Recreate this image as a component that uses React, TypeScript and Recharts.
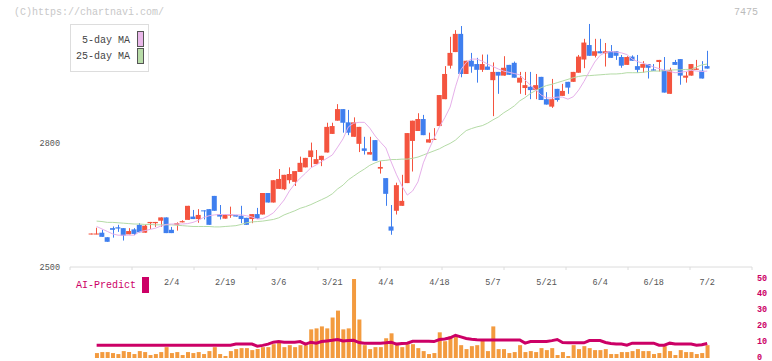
import React from 'react';
import { ComposedChart, Bar, Line, XAxis, YAxis } from 'recharts';

const MONO = '"Liberation Mono", "DejaVu Sans Mono", monospace';
const RED = '#F4543F';
const BLUE = '#3F7FEF';
const PINK = '#E6B0EA';
const GREEN = '#B4DBA6';
const ORANGE = '#F39B3F';
const MAGENTA = '#CC0066';
const AXIS = '#DCDCDC';

// candle OHLC (index = trading day)
const opens = [
  2579, 2579, 2583, 2572, 2594, 2596, 2594, 2579, 2591, 2602,
  2583, 2606, 2606, 2612, 2620, 2590, 2602, 2608, 2614, 2622,
  2616, 2637, 2640, 2672, 2628, 2617, 2625, 2626, 2624, 2619,
  2616, 2628, 2627, 2679, 2656, 2689, 2688, 2710, 2706, 2730,
  2741, 2766, 2749, 2759, 2777, 2822, 2854, 2882, 2850, 2815,
  2798, 2787, 2772, 2807, 2738, 2715, 2598, 2636, 2648, 2703,
  2805, 2829, 2858, 2801, 2808, 2841, 2906, 2987, 3020, 3064,
  2967, 2999, 2991, 2977, 2985, 2952, 2972, 2963, 2989, 2994,
  2946, 2933, 2936, 2928, 2960, 2906, 2888, 2931, 2914, 2948,
  2948, 2970, 3002, 3037, 3011, 3022, 3017, 3022, 3022, 3008,
  2989, 3009, 2986, 2982, 2991, 2978, 2996, 2977, 2919, 2996,
  3003, 2958, 2963, 2977, 2975, 2986,
];
const highs = [
  2581, 2595, 2590, 2572, 2598, 2602, 2594, 2594, 2594, 2606,
  2602, 2609, 2609, 2620, 2620, 2597, 2608, 2613, 2648, 2638,
  2640, 2637, 2640, 2672, 2650, 2627, 2646, 2626, 2648, 2619,
  2628, 2643, 2679, 2679, 2710, 2737, 2723, 2741, 2732, 2767,
  2764, 2801, 2783, 2769, 2849, 2849, 2894, 2882, 2880, 2862,
  2839, 2815, 2815, 2807, 2756, 2715, 2650, 2704, 2723, 2824,
  2854, 2872, 2868, 2825, 2836, 2916, 2986, 3057, 3073, 3083,
  2999, 3018, 3006, 3014, 3014, 2995, 2972, 3010, 2989, 2997,
  2972, 2972, 2972, 2967, 2960, 2923, 2955, 2931, 2943, 2948,
  2972, 3013, 3052, 3088, 3052, 3052, 3042, 3037, 3022, 3013,
  3010, 3012, 3013, 2998, 2991, 2991, 3001, 3008, 2982, 3001,
  3003, 2972, 2991, 3001, 2998, 3023,
];
const lows = [
  2579, 2579, 2573, 2561, 2571, 2585, 2564, 2579, 2577, 2584,
  2583, 2592, 2597, 2597, 2582, 2582, 2588, 2608, 2614, 2616,
  2607, 2615, 2602, 2636, 2615, 2617, 2619, 2622, 2606, 2602,
  2606, 2617, 2627, 2656, 2656, 2689, 2686, 2702, 2696, 2730,
  2741, 2741, 2749, 2744, 2777, 2822, 2854, 2825, 2819, 2815,
  2778, 2772, 2772, 2757, 2726, 2648, 2578, 2627, 2648, 2703,
  2731, 2829, 2819, 2801, 2808, 2841, 2906, 2980, 3020, 2959,
  2967, 2970, 2946, 2972, 2977, 2865, 2919, 2963, 2965, 2958,
  2919, 2916, 2906, 2906, 2904, 2893, 2885, 2900, 2914, 2919,
  2948, 2970, 2981, 3011, 3007, 3017, 2985, 3006, 3001, 2982,
  2989, 2999, 2970, 2970, 2956, 2975, 2973, 2922, 2919, 2989,
  2941, 2946, 2963, 2977, 2956, 2980,
];
const closes = [
  2581, 2581, 2573, 2561, 2590, 2593, 2576, 2587, 2580, 2584,
  2600, 2609, 2609, 2620, 2582, 2582, 2606, 2611, 2648, 2616,
  2626, 2635, 2602, 2636, 2622, 2627, 2627, 2622, 2616, 2602,
  2628, 2617, 2679, 2656, 2710, 2713, 2723, 2725, 2732, 2752,
  2764, 2782, 2761, 2769, 2839, 2841, 2882, 2849, 2825, 2850,
  2839, 2781, 2778, 2757, 2742, 2677, 2588, 2698, 2660, 2824,
  2854, 2858, 2819, 2809, 2810, 2916, 2967, 3018, 3064, 2967,
  2999, 2985, 2977, 2991, 2977, 2972, 2963, 2982, 2965, 2958,
  2958, 2940, 2928, 2940, 2904, 2893, 2906, 2904, 2926, 2934,
  2972, 3009, 3043, 3011, 3022, 3017, 3022, 3006, 3011, 2987,
  3008, 2999, 2977, 2991, 2982, 2975, 3001, 2922, 2977, 2989,
  2963, 2963, 2991, 2980, 2956, 2980,
];
// moving averages as drawn
const ma5 = [
  null, 2598, 2592, 2586, 2580, 2577, 2577, 2577, 2577, 2585,
  2588, 2591, 2594, 2599, 2603, 2604, 2604, 2604, 2605, 2608,
  2613, 2620, 2624, 2626, 2627, 2627, 2627, 2626, 2626, 2624,
  2621, 2616, 2617, 2623, 2631, 2646, 2662, 2684, 2701, 2715,
  2727, 2740, 2747, 2755, 2763, 2771, 2790, 2810, 2839, 2848,
  2850, 2850, 2836, 2817, 2802, 2788, 2754, 2723, 2696, 2674,
  2684, 2706, 2752, 2783, 2812, 2839, 2861, 2887, 2936, 2977,
  2995, 3003, 3003, 2998, 2991, 2985, 2979, 2974, 2971, 2968,
  2965, 2952, 2940, 2928, 2916, 2909, 2909, 2911, 2911, 2906,
  2912, 2928, 2949, 2973, 2996, 3012, 3019, 3021, 3020, 3018,
  3014, 3003, 2997, 2993, 2989, 2984, 2980, 2976, 2973, 2970,
  2971, 2973, 2976, 2974, 2973, 2974,
];
const ma25 = [
  null, 2611, 2610, 2608, 2608, 2607, 2606, 2605, 2604, 2604,
  2603, 2603, 2602, 2602, 2602, 2602, 2601, 2600, 2599, 2598,
  2598, 2598, 2598, 2597, 2597, 2598, 2599, 2600, 2603, 2607,
  2609, 2610, 2611, 2613, 2615, 2619, 2626, 2631, 2636, 2642,
  2646, 2651, 2657, 2663, 2669, 2677, 2689, 2698, 2711, 2720,
  2729, 2737, 2746, 2752, 2757, 2758, 2760, 2760, 2761, 2761,
  2763, 2766, 2771, 2776, 2781, 2786, 2793, 2799, 2807, 2819,
  2830, 2835, 2839, 2842, 2848, 2856, 2863, 2873, 2881, 2890,
  2902, 2910, 2920, 2927, 2934, 2939, 2942, 2946, 2950, 2954,
  2958, 2961, 2963, 2963, 2964, 2965, 2966, 2967, 2967, 2968,
  2970, 2970, 2970, 2971, 2973, 2974, 2974, 2975, 2976, 2977,
  2977, 2978, 2978, 2984, 2989, 2991,
];
// volume (relative units) and AI-Predict
const volume = [
  null, 5, 6, 6, 5, 4, 7, 6, 4, 7,
  6, 3, 4, 6, 11, 5, 6, 3, 6, 5,
  6, 4, 7, 11, 4, 2, 7, 9, 10, 10,
  8, 9, 11, 11, 14, 16, 11, 13, 11, 13,
  13, 29, 30, 32, 30, 41, 48, 29, 30, 80,
  39, 13, 9, 11, 11, 20, 25, 13, 11, 14,
  14, 10, 7, 4, 5, 26, 17, 22, 22, 13,
  9, 12, 13, 19, 7, 32, 9, 9, 5, 6,
  13, 6, 7, 6, 10, 8, 10, 3, 6, 2,
  13, 9, 12, 10, 8, 8, 9, 4, 4, 6,
  6, 7, 9, 7, 7, 4, 5, 12, 7, 3,
  8, 6, 6, 4, 5, 13,
];
const aiPredict = [
  null, 8.1, 8.1, 8.1, 8.1, 8.1, 8.1, 8.1, 8.1, 8.1,
  8.1, 8.1, 8.1, 8.1, 8.1, 8.1, 8.1, 8.1, 8.1, 8.1,
  8.1, 8.1, 8.1, 8.1, 8.1, 8.1, 8.1, 8.8, 8.8, 8.8,
  8.8, 7.5, 8, 8.8, 10, 10.4, 10, 10, 10, 10.4,
  8.8, 10, 9.4, 10.4, 10.8, 11.2, 11.7, 10.8, 11, 11.2,
  9.8, 9.4, 9.4, 9.4, 9.4, 9.6, 10, 8.8, 9.2, 9.4,
  10.6, 10.6, 10.6, 10.6, 10.4, 11.7, 12, 12.8, 14.4, 13.4,
  12.4, 11.9, 11.6, 11.4, 11.4, 11.4, 11.4, 11.4, 11.4, 11.4,
  11.4, 9.4, 10.4, 10.4, 10.4, 10.4, 11, 11.7, 9.8, 9.6,
  9.6, 9.6, 9.6, 11, 11, 11, 9.8, 9.2, 8.8, 8.8,
  8.1, 9.4, 9.4, 9.4, 9.4, 9.4, 8.1, 8.1, 9.4, 8.8,
  8.8, 8.8, 8.8, 8.1, 8.4, 9.2,
];
const tickIndex = [15, 25, 35, 45, 55, 65, 75, 85, 95, 105, 115];
const tickLabels = ['2/4', '2/19', '3/6', '3/21', '4/4', '4/18', '5/7', '5/21', '6/4', '6/18', '7/2'];
const priceTicks = [2500, 2800];
const aiTicks = [0, 10, 20, 30, 40, 50];
// the time axis is divided into 11 equal sections by tick marks
const gridTicks = [0, 1, 2, 3, 4, 5, 6, 7, 8, 9, 10, 11];

const priceData = opens.map((open, i) => ({
  idx: i,
  open,
  high: highs[i],
  low: lows[i],
  close: closes[i],
  range: [lows[i], highs[i]],
  ma5: ma5[i],
  ma25: ma25[i],
}));
const volData = opens.map((_, i) => ({ idx: i, vol: volume[i], ai: aiPredict[i] }));
const gridData = gridTicks.map((g) => ({ g, v: 0 }));

const PAD = { left: 18.6, right: 42.1 };

const Candle = (props: any) => {
  const { x, width, payload } = props;
  let { y, height } = props;
  if (height < 0) {
    y += height;
    height = -height;
  }
  const { open, close, high, low } = payload;
  const up = close >= open;
  const color = up ? RED : BLUE;
  const ratio = high - low > 0 ? height / (high - low) : 0;
  const yO = y + (high - open) * ratio;
  const yC = y + (high - close) * ratio;
  const top = Math.min(yO, yC);
  const h = Math.max(Math.abs(yC - yO), 1);
  const cx = Math.round(x + width / 2) + 0.5;
  return (
    <g>
      <line x1={cx} x2={cx} y1={y} y2={y + height} stroke={color} strokeWidth={1} />
      <rect x={x} y={top} width={width} height={h} fill={color} />
    </g>
  );
};

const PriceTick = (props: any) => (
  <text x={60} y={props.y} dy={3} textAnchor="end" fontSize={8.5} fill="#555" fontFamily={MONO}>
    {props.payload.value}
  </text>
);

const EmptyTick = () => <g />;

const DateTick = (props: any) => {
  const k = tickIndex.indexOf(props.payload.value);
  return (
    <text x={props.x} y={15} textAnchor="middle" fontSize={8.5} fill="#555" fontFamily={MONO}>
      {k >= 0 ? tickLabels[k] : ''}
    </text>
  );
};

const AiTick = (props: any) => (
  <text x={757} y={props.y} dy={1.5} textAnchor="start" fontSize={8.5} fontWeight="bold" fill={MAGENTA} fontFamily={MONO}>
    {props.payload.value}
  </text>
);

export default function App() {
  return (
    <div style={{ position: 'absolute', left: 0, top: 0, width: 772, height: 361, background: '#fff', overflow: 'hidden' }}>
      <div style={{ position: 'absolute', left: 0, top: 270 }}>
        <ComposedChart width={772} height={91} data={volData} margin={{ top: 0, right: 0, left: 70, bottom: 3 }}>
          <XAxis
            dataKey="idx"
            type="category"
            orientation="top"
            height={9}
            padding={PAD}
            ticks={tickIndex}
            interval={0}
            axisLine={false}
            tickLine={false}
            tick={<DateTick />}
          />
          <YAxis yAxisId="vol" hide domain={[0, 80]} allowDataOverflow />
          <YAxis
            yAxisId="ai"
            orientation="right"
            width={20}
            domain={[0, 50]}
            ticks={aiTicks}
            interval={0}
            axisLine={false}
            tickLine={false}
            tick={<AiTick />}
          />
          <Bar yAxisId="vol" dataKey="vol" barSize={4} fill={ORANGE} isAnimationActive={false} />
          <Line yAxisId="ai" dataKey="ai" stroke={MAGENTA} strokeWidth={3} dot={false} isAnimationActive={false} />
        </ComposedChart>
      </div>
      <div style={{ position: 'absolute', left: 0, top: 0 }}>
        <ComposedChart width={772} height={272} data={priceData} margin={{ top: 19, right: 20, left: 0, bottom: 5 }}>
          <XAxis xAxisId="d" dataKey="idx" type="category" hide padding={PAD} />
          <YAxis
            yAxisId="p"
            domain={[2500, 3100]}
            ticks={priceTicks}
            interval={0}
            width={70}
            allowDataOverflow
            axisLine={false}
            tickLine={false}
            tick={<PriceTick />}
          />
          <Line xAxisId="d" yAxisId="p" dataKey="ma25" stroke={GREEN} strokeWidth={1} dot={false} isAnimationActive={false} />
          <Line xAxisId="d" yAxisId="p" dataKey="ma5" stroke={PINK} strokeWidth={1} dot={false} isAnimationActive={false} />
          <Bar xAxisId="d" yAxisId="p" dataKey="range" barSize={5} shape={Candle} isAnimationActive={false} />
        </ComposedChart>
      </div>
      <div style={{ position: 'absolute', left: 0, top: 257 }}>
        <ComposedChart width={772} height={16} data={gridData} margin={{ top: 0, right: 20, left: 70, bottom: 0 }}>
          <XAxis
            dataKey="g"
            type="number"
            domain={[0, 11]}
            ticks={gridTicks}
            interval={0}
            tick={<EmptyTick />}
            tickSize={3}
            height={6}
            allowDataOverflow
            axisLine={{ stroke: AXIS }}
            tickLine={{ stroke: AXIS }}
          />
          <YAxis hide domain={[0, 1]} />
          <Line dataKey="v" stroke="none" dot={false} isAnimationActive={false} />
        </ComposedChart>
      </div>
      <div style={{ position: 'absolute', left: 14, top: 7, fontFamily: MONO, fontSize: 10, lineHeight: '12px', color: '#C8C8C8' }}>
        (C)https://chartnavi.com/
      </div>
      <div style={{ position: 'absolute', left: 734, top: 7, fontFamily: MONO, fontSize: 10, lineHeight: '12px', color: '#BBBBBB' }}>
        7475
      </div>
      <div
        style={{
          position: 'absolute', left: 70, top: 24, width: 77, height: 46, border: '1px solid #DDDDDD', background: '#fff',
          fontFamily: MONO, fontSize: 10, color: '#444',
        }}
      >
        <div style={{ position: 'absolute', right: 18, top: 10, lineHeight: '12px', whiteSpace: 'nowrap' }}>5-day MA</div>
        <div style={{ position: 'absolute', left: 66, top: 6, width: 5, height: 14, background: '#EAB8EA', border: '1px solid #555' }} />
        <div style={{ position: 'absolute', right: 18, top: 26, lineHeight: '12px', whiteSpace: 'nowrap' }}>25-day MA</div>
        <div style={{ position: 'absolute', left: 66, top: 23, width: 5, height: 14, background: '#B8DCA8', border: '1px solid #555' }} />
      </div>
      <div style={{ position: 'absolute', left: 76, top: 280, fontFamily: MONO, fontSize: 10, lineHeight: '12px', color: MAGENTA }}>
        AI-Predict
      </div>
      <div style={{ position: 'absolute', left: 142, top: 277, width: 7, height: 16, background: MAGENTA }} />
    </div>
  );
}
